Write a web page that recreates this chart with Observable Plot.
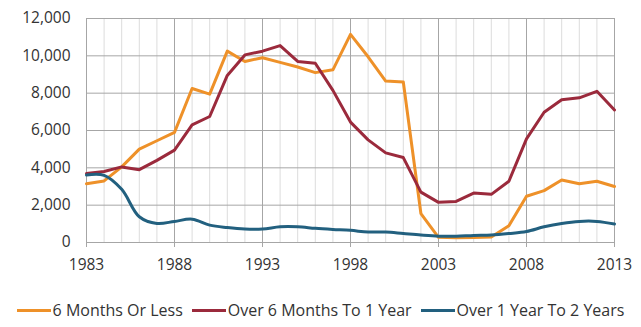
<!DOCTYPE html>
<html>
<head>
<meta charset="utf-8">
<script src="https://cdn.jsdelivr.net/npm/d3@7"></script>
<script src="https://cdn.jsdelivr.net/npm/@observablehq/plot@0.6"></script>
<style>
  html, body { margin: 0; padding: 0; background: #fff; }
  body { width: 641px; height: 327px; overflow: hidden; font-family: "Open Sans", sans-serif; }
  #legend { display: flex; justify-content: center; align-items: center; gap: 9px; margin-top: 14px; font-size: 16px; color: #333; white-space: nowrap; }
  .item { display: flex; align-items: center; }
  .sw { width: 34px; height: 3px; margin-right: 2px; }
</style>
</head>
<body>
<div id="chart"></div>
<div id="legend"></div>
<script>
const years = d3.range(1983, 2014);
const seriesNames = ["6 Months Or Less", "Over 6 Months To 1 Year", "Over 1 Year To 2 Years"];
const seriesColors = ["#EE9129", "#9B2A3C", "#22607F"];
const sixMonthsOrLess = [3150, 3300, 4050, 5000, 5450, 5900, 8250, 7950, 10250, 9700, 9900, 9650, 9400, 9100, 9250, 11150, 9950, 8650, 8600, 1550, 280, 250, 270, 300, 900, 2480, 2780, 3350, 3150, 3280, 3000];
const overSixMonthsToOneYear = [3700, 3800, 4050, 3900, 4400, 4950, 6300, 6750, 8950, 10050, 10250, 10550, 9700, 9600, 8150, 6450, 5500, 4800, 4550, 2700, 2150, 2200, 2650, 2580, 3280, 5550, 6980, 7650, 7750, 8100, 7100];
const overOneToTwoYears = [3620, 3600, 2850, 1380, 1020, 1130, 1250, 930, 800, 720, 720, 840, 840, 760, 700, 650, 560, 560, 480, 400, 340, 340, 380, 400, 480, 590, 840, 1020, 1130, 1130, 990];
const xTicks = [1983, 1988, 1993, 1998, 2003, 2008, 2013];
const yTicks = [0, 2000, 4000, 6000, 8000, 10000, 12000];

const allSeries = [sixMonthsOrLess, overSixMonthsToOneYear, overOneToTwoYears];
const rows = [];
allSeries.forEach((vals, i) => vals.forEach((v, j) => rows.push({year: years[j], value: v, series: seriesNames[i]})));

const chart = Plot.plot({
  width: 641,
  height: 285,
  marginLeft: 86,
  marginRight: 27,
  marginTop: 18,
  marginBottom: 43,
  style: {fontFamily: "'Open Sans', sans-serif", fontSize: "15px", color: "#333"},
  x: {domain: [1983, 2013]},
  y: {domain: [0, 12000]},
  color: {domain: seriesNames, range: seriesColors},
  marks: [
    Plot.ruleX(years.filter(y => !xTicks.includes(y)), {stroke: "#dcdcdc", strokeWidth: 1}),
    Plot.ruleY(yTicks, {stroke: "#a6a6a6", strokeWidth: 1}),
    Plot.ruleX(xTicks, {stroke: "#a6a6a6", strokeWidth: 1}),
    Plot.axisX({ticks: xTicks, tickFormat: d => String(d), tickSize: 5, tickPadding: 11, stroke: "#a6a6a6", label: null, fontSize: 15.5}),
    Plot.axisY({ticks: yTicks, tickFormat: d3.format(","), tickSize: 0, tickPadding: 16, label: null, fontSize: 15.5}),
    Plot.line(rows.filter(d => d.series !== seriesNames[2]), {x: "year", y: "value", z: "series", stroke: "series", strokeWidth: 3}),
    Plot.line(rows.filter(d => d.series === seriesNames[2]), {x: "year", y: "value", stroke: "series", strokeWidth: 3, curve: "catmull-rom"})
  ]
});
document.getElementById("chart").appendChild(chart);

const legend = document.getElementById("legend");
seriesNames.forEach((n, i) => {
  const it = document.createElement("div");
  it.className = "item";
  it.innerHTML = `<span class="sw" style="background:${seriesColors[i]}"></span><span>${n}</span>`;
  legend.appendChild(it);
});
</script>
</body>
</html>
